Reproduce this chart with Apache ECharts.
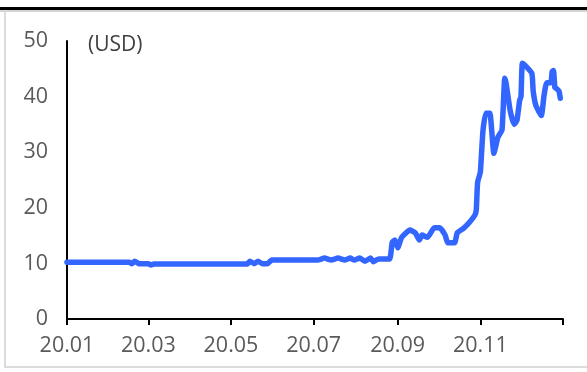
<!DOCTYPE html>
<html>
<head>
<meta charset="utf-8">
<script src="https://cdn.jsdelivr.net/npm/echarts@6/dist/echarts.min.js"></script>
<style>
  html, body { margin: 0; padding: 0; background: #fff; }
  #chart { width: 587px; height: 372px; }
</style>
</head>
<body>
<div id="chart"></div>
<script>
// Daily price observations, 2020 (USD)
const dates = [
  '2020-01-01', '2020-02-16', '2020-02-18', '2020-02-20', '2020-02-23', '2020-03-01',
  '2020-03-03', '2020-03-05', '2020-05-13', '2020-05-15', '2020-05-18', '2020-05-21',
  '2020-05-24', '2020-05-28', '2020-05-31', '2020-07-04', '2020-07-09', '2020-07-14',
  '2020-07-19', '2020-07-24', '2020-07-28', '2020-07-31', '2020-08-04', '2020-08-08',
  '2020-08-12', '2020-08-14', '2020-08-18', '2020-08-26', '2020-08-28', '2020-08-30',
  '2020-09-01', '2020-09-04', '2020-09-10', '2020-09-14', '2020-09-17', '2020-09-19',
  '2020-09-23', '2020-09-28', '2020-10-02', '2020-10-06', '2020-10-08', '2020-10-13',
  '2020-10-15', '2020-10-20', '2020-10-24', '2020-10-28', '2020-10-29', '2020-10-30',
  '2020-11-01', '2020-11-02', '2020-11-03', '2020-11-05', '2020-11-08', '2020-11-11',
  '2020-11-14', '2020-11-17', '2020-11-19', '2020-11-20', '2020-11-23', '2020-11-26',
  '2020-11-28', '2020-11-30', '2020-12-01', '2020-12-02', '2020-12-04', '2020-12-09',
  '2020-12-10', '2020-12-12', '2020-12-16', '2020-12-18', '2020-12-20', '2020-12-23',
  '2020-12-24', '2020-12-25', '2020-12-26', '2020-12-27', '2020-12-29', '2020-12-30'
];
const prices = [
  10.2, 10.2, 9.95, 10.4, 9.95, 9.95,
  9.7, 9.9, 9.9, 10.4, 9.95, 10.4,
  9.95, 9.95, 10.6, 10.6, 10.95, 10.6,
  10.95, 10.6, 10.95, 10.6, 10.95, 10.4,
  10.95, 10.3, 10.8, 10.8, 13.8, 14.2,
  12.8, 14.7, 16.0, 15.5, 14.2, 15.1,
  14.7, 16.4, 16.4, 15.1, 13.7, 13.7,
  15.5, 16.4, 17.4, 18.7, 19.6, 24.6,
  26.4, 30.3, 34.0, 37.0, 37.0, 29.8,
  32.7, 34.0, 43.3, 42.4, 37.5, 35.0,
  35.7, 39.3, 40.0, 46.0, 45.6, 44.2,
  41.0, 38.4, 36.6, 40.2, 42.5, 42.5,
  44.5, 44.7, 41.6, 41.5, 41.0, 39.7
];

// Axis ticks: every second month, labels as YY.MM
const tickDates = ['2020-01-01', '2020-03-01', '2020-05-01', '2020-07-01', '2020-09-01', '2020-11-01', '2021-01-01'];
const labelDates = ['2020-01-01', '2020-03-01', '2020-05-01', '2020-07-01', '2020-09-01', '2020-11-01'];
const yMax = 50;
const yStep = 10;
const unitLabel = '(USD)';

const toTime = d => Date.UTC(+d.slice(0, 4), +d.slice(5, 7) - 1, +d.slice(8, 10));
const seriesData = dates.map((d, i) => [toTime(d), prices[i]]);

const textColor = '#5a5a5a';
const fontFamily = '"Open Sans", "Noto Sans", sans-serif';

const chart = echarts.init(document.getElementById('chart'), null, { renderer: 'canvas' });
chart.setOption({
  animation: false,
  backgroundColor: '#ffffff',
  grid: { left: 67, right: 24, top: 41, bottom: 53, containLabel: false },
  xAxis: {
    type: 'value',
    min: toTime('2020-01-01'),
    max: toTime('2021-01-01'),
    splitLine: { show: false },
    axisLine: { show: true, onZero: false, lineStyle: { color: '#000', width: 2 } },
    axisTick: {
      show: true, length: 6, inside: false,
      customValues: tickDates.map(toTime),
      lineStyle: { color: '#000', width: 2 }
    },
    axisLabel: {
      show: true,
      customValues: labelDates.map(toTime),
      margin: 16,
      color: textColor,
      fontSize: 21.5,
      fontFamily: fontFamily,
      formatter: v => {
        const d = new Date(v);
        const yy = String(d.getUTCFullYear()).slice(2);
        const mm = String(d.getUTCMonth() + 1).padStart(2, '0');
        return yy + '.' + mm;
      }
    }
  },
  yAxis: {
    type: 'value',
    min: 0,
    max: yMax,
    interval: yStep,
    splitLine: { show: false },
    axisLine: { show: true, lineStyle: { color: '#000', width: 2 } },
    axisTick: { show: false },
    axisLabel: { color: textColor, fontSize: 21.5, fontFamily: fontFamily, margin: 19 }
  },
  series: [{
    type: 'line',
    data: seriesData,
    showSymbol: false,
    symbol: 'none',
    smooth: 0.15,
    lineStyle: { color: '#3366ff', width: 5.5, cap: 'round', join: 'round' }
  }],
  graphic: [
    { type: 'rect', shape: { x: 0, y: 7, width: 587, height: 3 }, style: { fill: '#000' }, silent: true },
    { type: 'rect', shape: { x: 0, y: 10, width: 587, height: 2 }, style: { fill: '#d4d4d4' }, silent: true },
    { type: 'rect', shape: { x: 4, y: 10, width: 2, height: 357 }, style: { fill: '#dcdcdc' }, silent: true },
    { type: 'rect', shape: { x: 4, y: 366, width: 583, height: 2 }, style: { fill: '#dcdcdc' }, silent: true },
    {
      type: 'text', left: 88, top: 35,
      style: { text: unitLabel, fill: '#404040', fontSize: 21, fontFamily: fontFamily }
    }
  ]
});
</script>
</body>
</html>
